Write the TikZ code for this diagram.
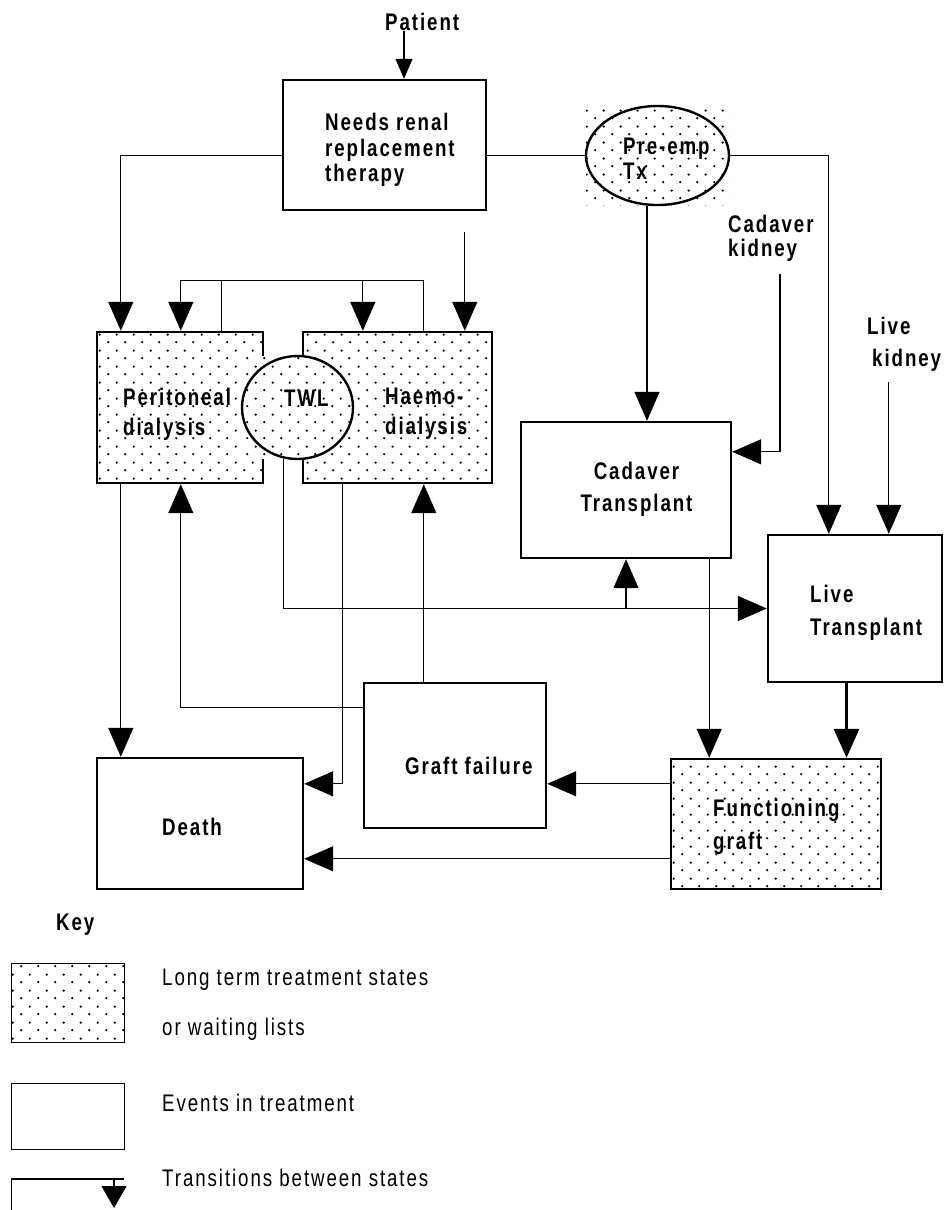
\documentclass[tikz,border=0pt]{standalone}
\usepackage{fontspec}
\setmainfont{Liberation Sans}[FakeStretch=0.78, LetterSpace=8]
\usetikzlibrary{arrows.meta, positioning, calc, patterns, shapes.geometric}

\pgfdeclarepatternformonly{stipple}{\pgfpoint{0pt}{0pt}}{\pgfpoint{17.4pt}{16pt}}{\pgfpoint{17.4pt}{16pt}}{%
  \pgfpathcircle{\pgfpoint{4.35pt}{4pt}}{1.3pt}%
  \pgfpathcircle{\pgfpoint{13.05pt}{12pt}}{1.3pt}%
  \pgfusepath{fill}}

\begin{document}
\begin{tikzpicture}[
  x=1pt, y=-1pt,
  font=\bfseries\fontsize{24}{31}\selectfont,
  longterm/.style={rectangle, draw, line width=2.4pt, pattern=stipple, inner sep=0pt},
  event/.style={rectangle, draw, line width=2.4pt, inner sep=0pt},
  dotbg/.style={rectangle, preaction={fill=white}, pattern=stipple, inner sep=0pt},
  waiting/.style={ellipse, draw, line width=2.4pt, inner sep=0pt},
  arr/.style={-{Triangle[length=29pt, width=25pt]}, line width=1.2pt},
  lin/.style={line width=1.2pt},
  lbl/.style={inner sep=0pt, align=left, anchor=north west},
  keytxt/.style={font=\mdseries\fontsize{24}{31}\selectfont, anchor=base west, inner sep=0pt},
  keybox/.style={rectangle, draw, line width=0.8pt, inner sep=0pt},
]
\useasboundingbox (0,0) rectangle (944,1210);

% --- Entry ---
\node[lbl, anchor=base west] (patient) at (385,30.7) {Patient};
\node[event, minimum width=203pt, minimum height=130pt] (needs) at (384.5,145) {};
\node[lbl, font=\bfseries\fontsize{24}{25.5}\selectfont] (needs-txt) at (325,113) {Needs renal\\replacement\\therapy};

% --- Dialysis and waiting list ---
\node[longterm, minimum width=166pt, minimum height=151pt] (pd) at (180,407.5) {};
\node[lbl, font=\bfseries\fontsize{24}{30}\selectfont] (pd-txt) at (123,388) {Peritoneal\\dialysis};
\node[longterm, minimum width=189pt, minimum height=151pt] (hd) at (397.5,407.5) {};
\node[lbl, font=\bfseries\fontsize{24}{30}\selectfont] (hd-txt) at (385,388) {Haemo-\\dialysis};
\node[dotbg, minimum width=111pt, minimum height=103pt] (twl-bg) at (297.5,407.5) {};
\node[waiting, minimum width=111pt, minimum height=103pt] (twl) at (twl-bg) {};
\node[lbl] (twl-txt) at (284,390) {TWL};

\node[dotbg, minimum width=143pt, minimum height=99pt] (preemp-bg) at (657.5,155.5) {};
\node[waiting, minimum width=143pt, minimum height=99pt] (preemp) at (preemp-bg) {};
\node[lbl, font=\bfseries\fontsize{24}{25}\selectfont] (preemp-txt) at (623,138) {Pre-emp\\Tx};

% --- Transplants ---
\node[lbl, font=\bfseries\fontsize{24}{24}\selectfont] (cadk) at (728,215) {Cadaver\\kidney};
\node[lbl, font=\bfseries\fontsize{24}{32}\selectfont] (livek) at (867,317) {Live\\\hspace*{5pt}kidney};
\node[event, minimum width=210pt, minimum height=136pt] (cad) at (626,490) {};
\node[lbl, anchor=north, align=center, font=\bfseries\fontsize{24}{32}\selectfont] (cad-txt) at (636.5,462) {Cadaver\\Transplant};
\node[event, minimum width=174pt, minimum height=147pt] (lt) at (855,608.5) {};
\node[lbl, font=\bfseries\fontsize{24}{33}\selectfont] (lt-txt) at (810,585) {Live\\Transplant};

% --- Outcomes ---
\node[event, minimum width=182pt, minimum height=145pt] (gf) at (455,755.5) {};
\node[lbl, anchor=base west] (gf-txt) at (405,774) {Graft failure};
\node[event, minimum width=206pt, minimum height=131pt] (death) at (200,823.5) {};
\node[lbl, anchor=base west] (death-txt) at (162,835) {Death};
\node[longterm, minimum width=210pt, minimum height=130pt] (fg) at (776,824) {};
\node[lbl, font=\bfseries\fontsize{24}{33}\selectfont] (fg-txt) at (713,799) {Functioning\\graft};

% --- Connection points ---
\coordinate (hd-in3) at ($(hd.north west)+(163,0)$);
\coordinate (needs-gap) at ($(needs.south)+(0,21)$);
\coordinate (cad-in1) at ($(cad.north)+(21,0)$);
\coordinate (cad-in2) at ($(cad.north east)+(0,31)$);
\coordinate (lt-in2) at ($(lt.north west)+(122,0)$);
\coordinate (pd-out) at ($(pd.south west)+(25,0)$);
\coordinate (gf-out2) at ($(gf.north west)+(61,0)$);
\coordinate (cad-out) at ($(cad.south east)+(-23,0)$);
\coordinate (fg-in2) at ($(lt.south)+(-8.5,0)$);
\coordinate (fg-out1) at ($(fg.north west)+(0,26)$);
\coordinate (fg-out2) at ($(fg.north west)+(0,101)$);

% --- From the patient ---
\draw[arr, -{Triangle[length=20pt, width=17pt]}] (patient.base west) ++(19,0) -- ($(needs.north)+(19.5,0)$);
\draw[arr] (needs.west |- preemp.west) -| ($(pd.north west)+(25,0)$);
\draw[lin] (needs.east |- preemp.west) -- (preemp.west);
\draw[arr] (hd-in3 |- needs-gap) -- (hd-in3);
\draw[arr] (preemp.east) -| ($(lt.north west)+(62,0)$);
\draw[arr] (cad-in1 |- preemp.south) -- (cad-in1);

% --- Between the dialysis states ---
\draw[arr] ($(pd.north west)+(126,0)$) -- ++(0,-50) -| ($(hd.north west)+(61,0)$);
\draw[arr] ($(hd.north west)+(122,0)$) -- ++(0,-50) -| ($(pd.north west)+(85,0)$);

% --- Donor kidneys ---
\draw[arr] ($(cadk.south west)+(52,12)$) |- (cad-in2);
\draw[arr] (lt-in2 |- livek.south) ++(0,10) -- (lt-in2);

% --- Waiting list to transplant ---
\draw[arr] (twl.255) |- (lt.west);
\draw[arr] (cad.south |- lt.west) -- (cad.south);

% --- Deaths and graft outcomes ---
\draw[arr] (pd-out) -- (pd-out |- death.north);
\draw[arr] ($(hd.south west)+(41,0)$) |- ($(death.north east)+(0,27)$);
\draw[arr] ($(gf.north west)+(0,26)$) -| ($(pd.south west)+(85,0)$);
\draw[arr] (gf-out2) -- (gf-out2 |- hd.south);
\draw[arr] (cad-out) -- (cad-out |- fg.north);
\draw[arr, line width=3pt] (fg-in2) -- (fg-in2 |- fg.north);
\draw[arr] (fg-out1) -- (fg-out1 -| gf.east);
\draw[arr] (fg-out2) -- (fg-out2 -| death.east);

% --- Key ---
\node[lbl, anchor=base west] (key) at (56,930) {Key};
\node[keybox, pattern=stipple, minimum width=113pt, minimum height=79pt] (key-lt) at (67.5,1002.5) {};
\node[keytxt] (key-lt1) at (162,985.7) {Long term treatment states};
\node[keytxt] (key-lt2) at (162,1035) {or waiting lists};
\node[keybox, minimum width=113pt, minimum height=66pt] (key-ev) at (67.5,1116) {};
\node[keytxt] (key-ev1) at (162,1111.7) {Events in treatment};
\coordinate (key-tr) at (11,1179);
\draw[line width=0.8pt] (key-tr) -- ++(0,31);
\draw[line width=2.5pt] (key-tr) -- ++(113,0);
\draw[arr, -{Triangle[length=22pt, width=25pt]}] ($(key-tr)+(103,0)$) -- ++(0,29);
\node[keytxt] (key-tr1) at (162,1186.7) {Transitions between states};

\end{tikzpicture}
\end{document}
